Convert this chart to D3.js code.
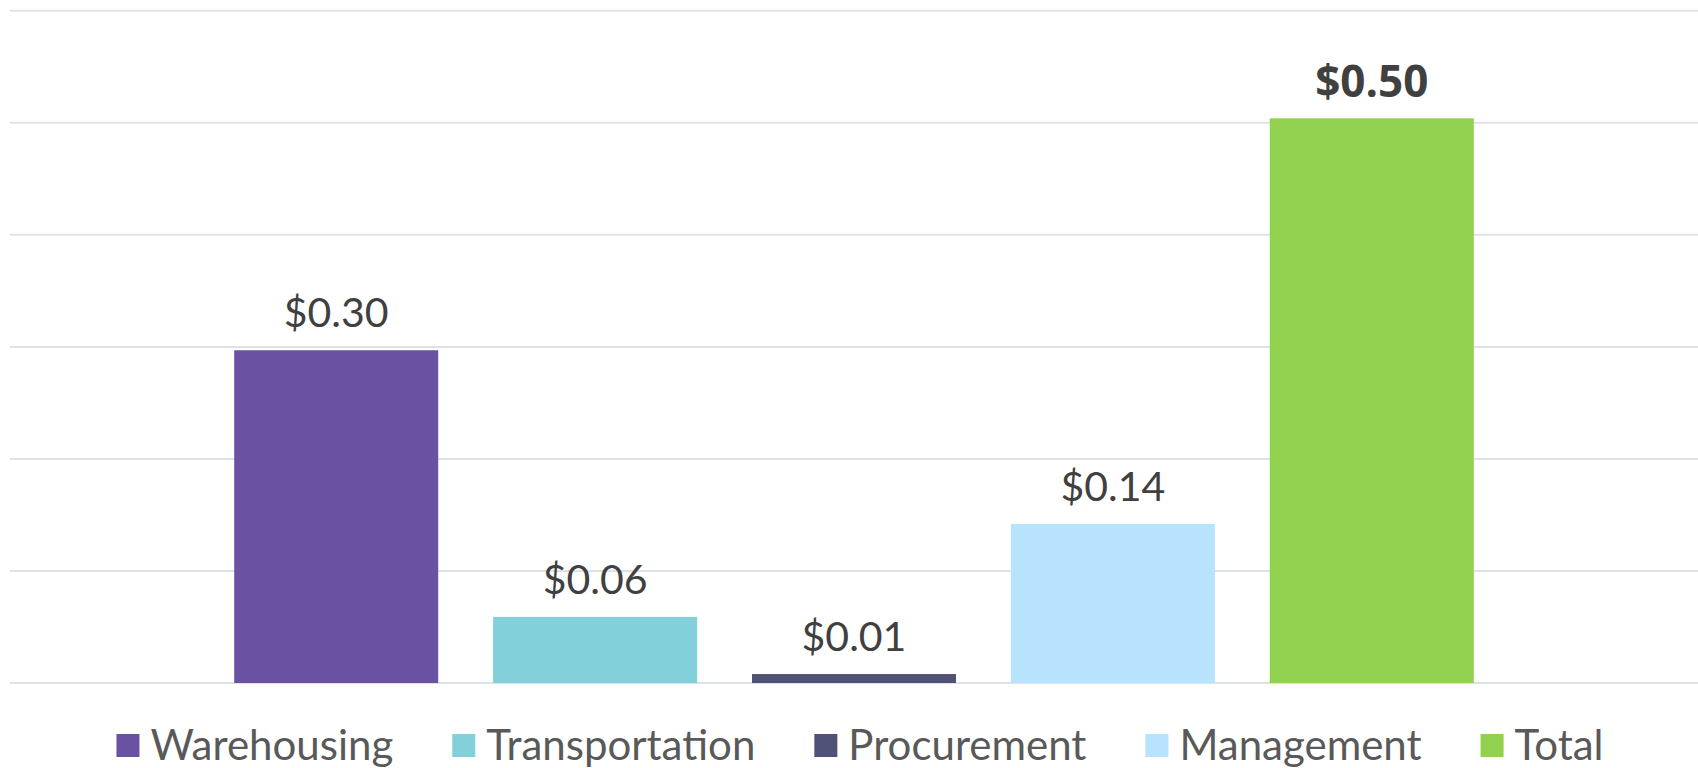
<!DOCTYPE html>
<html>
<head>
<meta charset="utf-8">
<script src="https://cdn.jsdelivr.net/npm/d3@7"></script>
<style>
  body { margin: 0; background: #fff; }
  svg { display: block; }
</style>
</head>
<body>
<script>
// chart data
var categories = ["Warehousing", "Transportation", "Procurement", "Management", "Total"];
var values = [0.297, 0.059, 0.008, 0.142, 0.504];
var colors = ["#6a52a3", "#82d0d9", "#4f5177", "#b8e3fc", "#92d050"];
var yTicks = [0, 0.1, 0.2, 0.3, 0.4, 0.5, 0.6];

var svgWidth = 1698;
var svgHeight = 768;

var svg = d3.select("body")
  .append("svg")
  .attr("width", svgWidth)
  .attr("height", svgHeight);

var xBandScale = d3.scaleBand()
  .domain(categories)
  .range([10, 1698])
  .paddingInner(0.212)
  .paddingOuter(0.866);

var yLinearScale = d3.scaleLinear()
  .domain([0, 0.6])
  .range([683, 10.8]);

// gridlines
svg.append("g")
  .selectAll("line")
  .data(yTicks)
  .enter()
  .append("line")
  .attr("x1", 10)
  .attr("x2", svgWidth)
  .attr("y1", d => yLinearScale(d))
  .attr("y2", d => yLinearScale(d))
  .attr("stroke", "#dce2ea")
  .attr("stroke-width", 2);

var data = categories.map((c, i) => ({ name: c, value: values[i], color: colors[i] }));

// bars
svg.selectAll(".bar")
  .data(data)
  .enter()
  .append("rect")
  .attr("class", "bar")
  .attr("x", d => xBandScale(d.name))
  .attr("y", d => yLinearScale(d.value))
  .attr("width", xBandScale.bandwidth())
  .attr("height", d => yLinearScale(0) - yLinearScale(d.value))
  .attr("fill", d => d.color);

// value labels
var fmt = d3.format("$.2f");
svg.selectAll(".label")
  .data(data)
  .enter()
  .append("text")
  .attr("class", "label")
  .attr("x", d => xBandScale(d.name) + xBandScale.bandwidth() / 2)
  .attr("y", d => yLinearScale(d.value) - (d.name === "Total" ? 21 : 23))
  .attr("text-anchor", "middle")
  .style("font-family", d => d.name === "Total" ? "'Open Sans', sans-serif" : "Lato, sans-serif")
  .style("font-weight", d => d.name === "Total" ? "bold" : "normal")
  .style("font-size", d => d.name === "Total" ? "44px" : "41px")
  .attr("fill", "#404040")
  .text(d => fmt(d.value));

// legend
var legend = svg.append("g");
var items = legend.selectAll("g")
  .data(data)
  .enter()
  .append("g");

items.append("rect")
  .attr("width", 23)
  .attr("height", 23)
  .attr("y", 734)
  .attr("fill", d => d.color);

items.append("text")
  .attr("x", 34)
  .attr("y", 760)
  .style("font-family", "Lato, sans-serif")
  .style("font-size", "42px")
  .attr("fill", "#595959")
  .text(d => d.name);

var offset = 0;
var gap = 59;
items.each(function() {
  var g = d3.select(this);
  g.attr("transform", `translate(${offset}, 0)`);
  offset += 34 + g.select("text").node().getComputedTextLength() + gap;
});
var legendWidth = offset - gap;
legend.attr("transform", `translate(${860 - legendWidth / 2}, 0)`);
</script>
</body>
</html>
